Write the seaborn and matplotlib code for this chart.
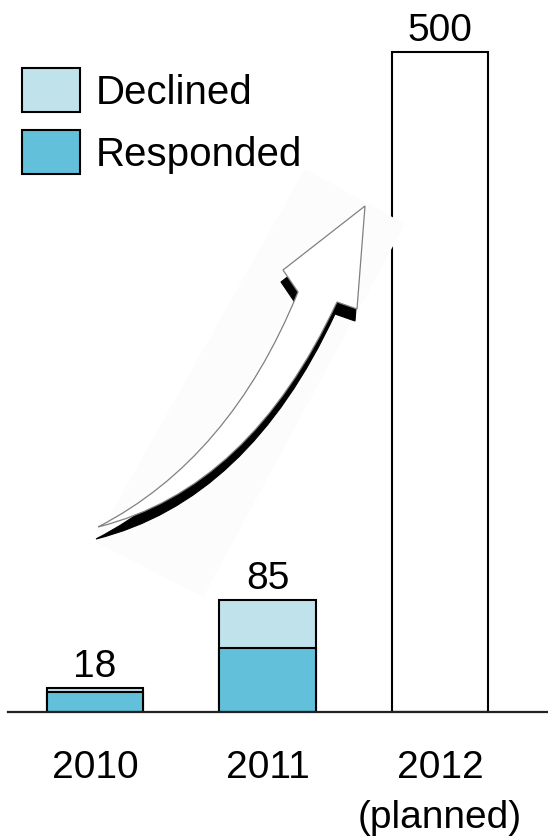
import matplotlib
matplotlib.use("Agg")
import matplotlib.pyplot as plt
import matplotlib.patches as mpatches
from matplotlib.path import Path
import seaborn as sns

# Survey counts per year
years = ["2010", "2011", "2012\n(planned)"]
totals = [18, 85, 500]
responded = [15, 48, 0]
total_labels = ["18", "85", "500"]

DECLINED = "#c0e2eb"
RESPONDED = "#62c0da"

sns.set_theme(style="white")
plt.rcParams["font.family"] = ["Liberation Sans", "DejaVu Sans"]
plt.rcParams["text.color"] = "black"

W, H = 548, 837
fig = plt.figure(figsize=(W / 100, H / 100), dpi=100)
ax = fig.add_axes([8 / W, (H - 712.7) / H, 1 - 8 / W, 712.7 / H])

bar_w = 0.557
# full bars (declined share on top), then the responded part over them
sns.barplot(x=years, y=totals, hue=years, palette=[DECLINED, DECLINED, "white"],
            legend=False, width=bar_w, edgecolor="black", linewidth=1.5, ax=ax,
            saturation=1)
sns.barplot(x=years, y=responded, hue=years, palette=[RESPONDED, RESPONDED, "white"],
            legend=False, width=bar_w, edgecolor="black", linewidth=1.5, ax=ax,
            saturation=1)

for i, (t, lab) in enumerate(zip(totals, total_labels)):
    ax.annotate(lab, (i, t), xytext=(0, 8.6), textcoords="offset points",
                ha="center", va="baseline", fontsize=28, color="black")

ax.set_ylim(0, 540.2)
ax.set_xlim(-0.504, 2.626)
ax.set_yticks([])
ax.set_ylabel("")
ax.tick_params(axis="x", length=0, pad=27, labelsize=28, colors="black")
for lab in ax.get_xticklabels():
    lab.set_linespacing(1.5)
for s in ["top", "left", "right"]:
    ax.spines[s].set_visible(False)
ax.spines["bottom"].set_color("#222222")
ax.spines["bottom"].set_linewidth(1.6)

handles = [mpatches.Patch(facecolor=DECLINED, edgecolor="black", linewidth=1.5, label="Declined"),
           mpatches.Patch(facecolor=RESPONDED, edgecolor="black", linewidth=1.5, label="Responded")]
leg = fig.legend(handles=handles, loc="upper left", bbox_to_anchor=(22 / W, 1 - 69 / H),
                 frameon=False, fontsize=29, handlelength=1.45, handleheight=1.3,
                 handletextpad=0.38, labelspacing=0.45, borderpad=0, borderaxespad=0,
                 labelcolor="black")


# curved growth arrow, defined in pixel space (y downward)
def to_fig(pts):
    return [(x / W, 1 - y / H) for x, y in pts]


haze = [(305, 170), (405, 225), (203, 598), (95, 543)]
fig.add_artist(mpatches.Polygon(to_fig(haze), closed=True, facecolor="#fcfcfc",
                                edgecolor="none", transform=fig.transFigure, zorder=0.5))

arrow_pts = [(98, 528), (230, 460), (298, 293),
             (283, 271), (365, 207), (357, 310), (337, 303),
             (250, 490), (98, 528), (98, 528)]
codes = [Path.MOVETO, Path.CURVE3, Path.CURVE3,
         Path.LINETO, Path.LINETO, Path.LINETO, Path.LINETO,
         Path.CURVE3, Path.CURVE3, Path.CLOSEPOLY]


def arrow_path(dx=0, dy=0):
    return Path(to_fig([(x + dx, y + dy) for x, y in arrow_pts]), codes)


fig.add_artist(mpatches.PathPatch(arrow_path(-2, 12), facecolor="black", edgecolor="black",
                                  linewidth=0.8, transform=fig.transFigure, zorder=3))
fig.add_artist(mpatches.PathPatch(arrow_path(), facecolor="white", edgecolor="#808080",
                                  linewidth=0.9, transform=fig.transFigure, zorder=4))

fig.savefig("out.png", dpi=100)
